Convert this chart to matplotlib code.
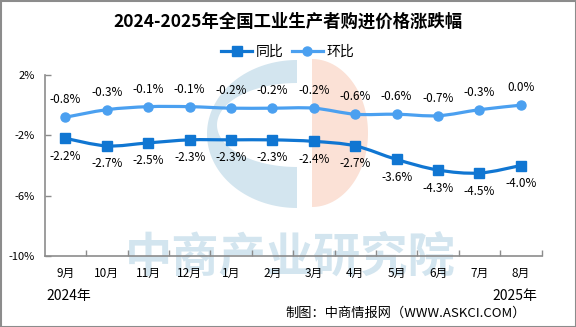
import numpy as np
import matplotlib
matplotlib.use("Agg")
import matplotlib.pyplot as plt
from matplotlib.path import Path
from matplotlib.patches import PathPatch, Polygon, Rectangle
from matplotlib.lines import Line2D

plt.rcParams['font.family'] = ['Noto Sans CJK SC', 'DejaVu Sans']

# datos
meses = ["9月", "10月", "11月", "12月", "1月", "2月", "3月", "4月", "5月", "6月", "7月", "8月"]
tongbi = [-2.2, -2.7, -2.5, -2.3, -2.3, -2.3, -2.4, -2.7, -3.6, -4.3, -4.5, -4.0]
huanbi = [-0.8, -0.3, -0.1, -0.1, -0.2, -0.2, -0.2, -0.6, -0.6, -0.7, -0.3, 0.0]
ticks_y = [2, -2, -6, -10]

COLOR_TB = "#1076d2"
COLOR_HB = "#4ba0f0"
COLOR_AZUL_MARCA = "#d3e5ef"
COLOR_MELOCOTON = "#fbe1d6"
GRIS = "#8c8c8c"


def curva_suave(xs, ys):
    # Catmull-Rom -> Bezier cubica
    pts = np.column_stack([xs, ys]).astype(float)
    verts = [pts[0]]
    codes = [Path.MOVETO]
    n = len(pts)
    for i in range(n - 1):
        p0 = pts[max(i - 1, 0)]
        p1 = pts[i]
        p2 = pts[i + 1]
        p3 = pts[min(i + 2, n - 1)]
        c1 = p1 + (p2 - p0) / 6.0
        c2 = p2 - (p3 - p1) / 6.0
        verts += [c1, c2, p2]
        codes += [Path.CURVE4] * 3
    return Path(verts, codes)


def media_elipse(cx, cy, rx, ry, t0, t1):
    t = np.linspace(np.radians(t0), np.radians(t1), 80)
    return np.column_stack([cx + rx * np.cos(t), cy - ry * np.sin(t)])


fig = plt.figure(figsize=(5.76, 3.27), dpi=100)

# ================================
# FONDO / MARCA DE AGUA
# ================================
bg = fig.add_axes([0, 0, 1, 1], zorder=0)
bg.set_xlim(0, 576)
bg.set_ylim(327, 0)
bg.axis("off")

bg.add_patch(Polygon(media_elipse(297, 134, 90, 74, 90, 270),
                     closed=True, facecolor=COLOR_AZUL_MARCA, edgecolor="none"))
bg.add_patch(Polygon(media_elipse(297, 125, 80, 42, 90, 270),
                     closed=True, facecolor="white", edgecolor="none"))
bg.add_patch(Polygon(media_elipse(312, 133, 56, 74, -90, 90),
                     closed=True, facecolor=COLOR_MELOCOTON, edgecolor="none"))

bg.text(290, 257, "中商产业研究院", ha="center", va="center", fontsize=34,
        color=COLOR_AZUL_MARCA, fontweight="bold")

bg.add_patch(Rectangle((0.5, 0.5), 575, 326, facecolor="none",
                       edgecolor=GRIS, lw=1.5))

# ================================
# GRAFICO
# ================================
x0, x1, y0, y1 = 44.8, 541.5, 75, 256
ax = fig.add_axes([x0 / 576, 1 - y1 / 327, (x1 - x0) / 576, (y1 - y0) / 327], zorder=1)
ax.patch.set_alpha(0)

x = np.arange(len(meses))

ax.add_patch(PathPatch(curva_suave(x, huanbi), facecolor="none",
                       edgecolor=COLOR_HB, lw=2.3, zorder=3))
ax.add_patch(PathPatch(curva_suave(x, tongbi), facecolor="none",
                       edgecolor=COLOR_TB, lw=2.3, zorder=3))
ax.plot(x, huanbi, linestyle="none", marker="o", markersize=6.5,
        color=COLOR_HB, zorder=4)
ax.plot(x, tongbi, linestyle="none", marker="s", markersize=6.5,
        color=COLOR_TB, zorder=4)

for xi, v in zip(x, huanbi):
    ax.annotate(f"{v:.1f}%", (xi, v), xytext=(0, 12.5), textcoords="offset points",
                ha="center", va="center", fontsize=8.5, color="black")
for xi, v in zip(x, tongbi):
    ax.annotate(f"{v:.1f}%", (xi, v), xytext=(0, -13), textcoords="offset points",
                ha="center", va="center", fontsize=8.5, color="black")

ax.set_xlim(-0.5, len(meses) - 0.5)
ax.set_ylim(-10, 2)
ax.set_yticks(ticks_y)
ax.set_yticklabels([f"{v}%" for v in ticks_y], fontsize=8)
ax.set_xticks(x)
ax.set_xticklabels(meses, fontsize=8.5)
ax.set_xticks(np.arange(0.5, len(meses), 1), minor=True)
ax.tick_params(axis="x", which="major", length=0, pad=8)
ax.tick_params(axis="x", which="minor", direction="in", length=4, color=GRIS, width=1)
ax.tick_params(axis="y", direction="in", length=4, color=GRIS, width=1, pad=7)

for lado in ["top", "right"]:
    ax.spines[lado].set_visible(False)
for lado in ["left", "bottom"]:
    ax.spines[lado].set_color(GRIS)
    ax.spines[lado].set_linewidth(1.2)

# ================================
# TEXTOS
# ================================
fig.text(288 / 576, 1 - 22 / 327, "2024-2025年全国工业生产者购进价格涨跌幅",
         ha="center", va="center", fontsize=12.5, fontweight="bold", color="black")

manejadores = [
    Line2D([], [], color=COLOR_TB, lw=2.3, marker="s", markersize=6.5),
    Line2D([], [], color=COLOR_HB, lw=2.3, marker="o", markersize=6.5),
]
fig.legend(manejadores, ["同比", "环比"], loc="center", bbox_to_anchor=(288 / 576, 1 - 52 / 327),
           ncol=2, frameon=False, fontsize=10, handlelength=2.2, handletextpad=0.3,
           columnspacing=0.6)

fig.text(46 / 576, 1 - 296 / 327, "2024年", ha="left", va="center", fontsize=10)
fig.text(537 / 576, 1 - 296 / 327, "2025年", ha="right", va="center", fontsize=10)
fig.text(526 / 576, 1 - 313 / 327, "制图：中商情报网（WWW.ASKCI.COM）",
         ha="right", va="center", fontsize=9.5)

fig.savefig("out.png", dpi=100)
